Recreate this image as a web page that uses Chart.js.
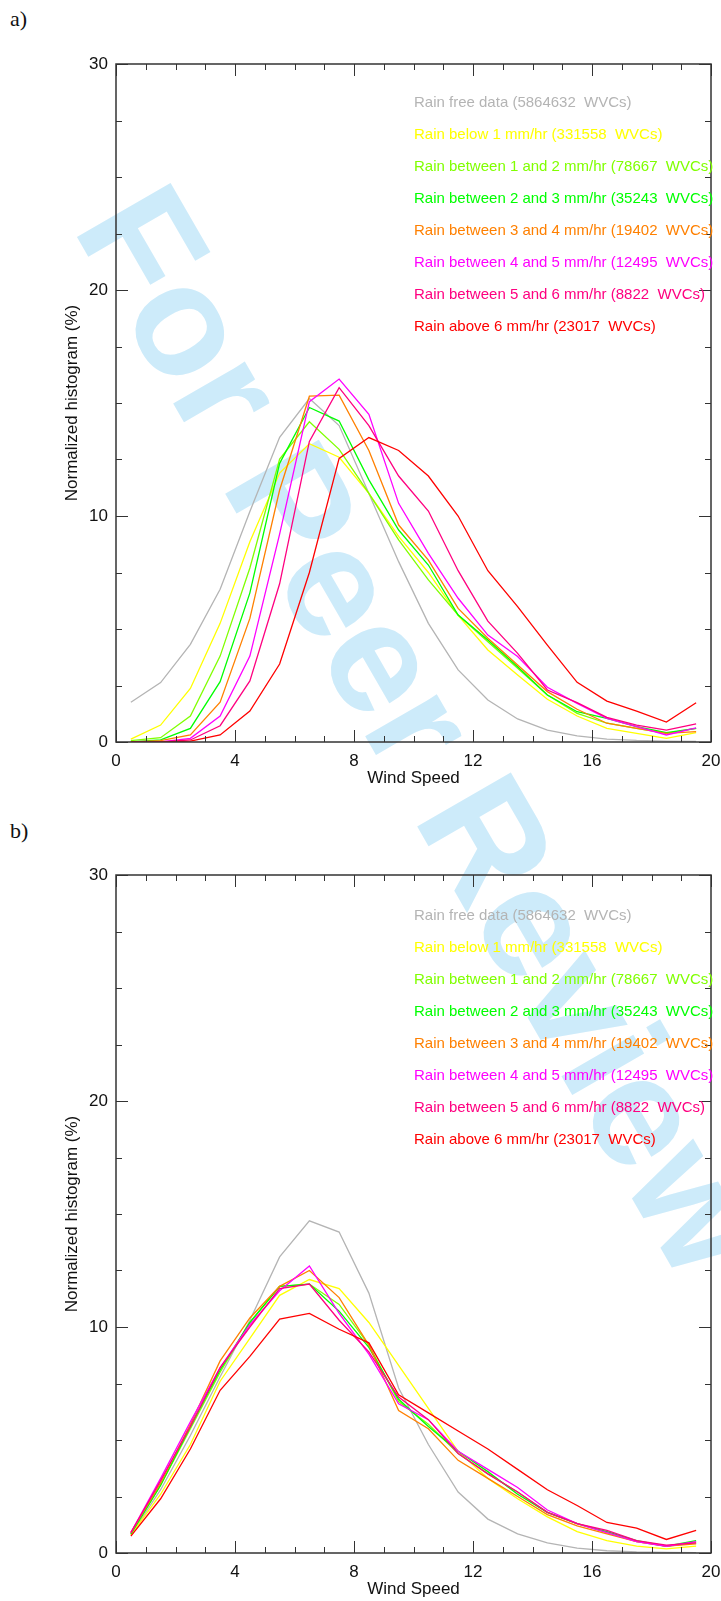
<!DOCTYPE html>
<html>
<head>
<meta charset="utf-8">
<script src="https://cdn.jsdelivr.net/npm/chart.js@4.4.1/dist/chart.umd.min.js"></script>
<style>
  body { margin: 0; background: #fff; width: 721px; height: 1601px; position: relative; overflow: hidden; }
  .panel { position: absolute; left: 0; z-index: 1; }
  .tag { position: absolute; left: 10px; font: 22px "Liberation Serif", "Times New Roman", serif; color: #111; z-index: 1; }
  .stamp {
    position: absolute; left: 424px; top: 730px; z-index: 0;
    transform: translate(-50%, -50%) rotate(60deg);
    font: bold 157px "Liberation Sans", Arial, sans-serif;
    color: rgb(205, 235, 250); white-space: nowrap;
  }
</style>
</head>
<body>
<div class="stamp">For Peer Review</div>
<div class="tag" style="top:6px">a)</div>
<div class="tag" style="top:818px">b)</div>
<canvas id="chartA" class="panel" style="top:0" width="721" height="800"></canvas>
<canvas id="chartB" class="panel" style="top:800px" width="721" height="801"></canvas>
<script>
// bin centres (m/s)
const windSpeed = [0.5, 1.5, 2.5, 3.5, 4.5, 5.5, 6.5, 7.5, 8.5, 9.5,
                   10.5, 11.5, 12.5, 13.5, 14.5, 15.5, 16.5, 17.5, 18.5, 19.5];

const classLabels = [
  "Rain free data (5864632  WVCs)",
  "Rain below 1 mm/hr (331558  WVCs)",
  "Rain between 1 and 2 mm/hr (78667  WVCs)",
  "Rain between 2 and 3 mm/hr (35243  WVCs)",
  "Rain between 3 and 4 mm/hr (19402  WVCs)",
  "Rain between 4 and 5 mm/hr (12495  WVCs)",
  "Rain between 5 and 6 mm/hr (8822  WVCs)",
  "Rain above 6 mm/hr (23017  WVCs)"
];
const classColors = ["#b4b4b4", "#ffff00", "#80ff00", "#00ff00", "#ff8000", "#ff00ff", "#ff0080", "#ff0000"];

// panel a
const aRainFree = [1.76, 2.63, 4.32, 6.76, 10.2, 13.48, 15.2, 14.0, 11.0, 7.98, 5.25, 3.19, 1.86, 1.02, 0.53, 0.27, 0.13, 0.07, 0.04, 0.03];
const aBelow1   = [0.13, 0.75, 2.37, 5.25, 8.86, 11.9, 13.2, 12.6, 11.0, 9.1, 7.5, 5.6, 4.07, 2.96, 1.89, 1.15, 0.6, 0.38, 0.16, 0.41];
const a1to2     = [0.06, 0.19, 1.15, 3.8, 7.7, 12.52, 14.17, 12.95, 11.0, 8.94, 7.17, 5.62, 4.44, 3.26, 2.08, 1.27, 0.83, 0.6, 0.38, 0.6];
const a2to3     = [0.01, 0.09, 0.6, 2.67, 6.6, 12.33, 14.8, 14.2, 11.6, 9.38, 7.83, 5.62, 4.51, 3.33, 2.08, 1.34, 1.05, 0.68, 0.41, 0.6];
const a3to4     = [0.0, 0.06, 0.31, 1.76, 5.47, 11.15, 15.3, 15.35, 12.9, 9.6, 8.05, 5.91, 4.59, 3.41, 2.23, 1.45, 0.83, 0.6, 0.38, 0.46];
const a4to5     = [0.0, 0.0, 0.16, 1.15, 3.8, 9.2, 15.06, 16.06, 14.5, 10.56, 8.35, 6.36, 4.73, 3.78, 2.42, 1.71, 1.05, 0.68, 0.31, 0.63];
const a5to6     = [0.0, 0.0, 0.09, 0.72, 2.7, 7.0, 13.3, 15.68, 14.0, 11.77, 10.22, 7.58, 5.35, 3.92, 2.3, 1.74, 1.09, 0.75, 0.53, 0.8];
const aAbove6   = [0.0, 0.0, 0.04, 0.31, 1.37, 3.45, 7.5, 12.55, 13.47, 12.9, 11.77, 10.0, 7.58, 5.99, 4.29, 2.64, 1.81, 1.37, 0.88, 1.74];

// panel b
const bRainFree = [0.8, 2.8, 5.2, 7.8, 10.3, 13.1, 14.7, 14.2, 11.5, 7.3, 4.8, 2.7, 1.5, 0.85, 0.45, 0.22, 0.1, 0.05, 0.03, 0.02];
const bBelow1   = [0.8, 2.6, 4.8, 7.6, 9.5, 11.4, 12.1, 11.7, 10.2, 8.3, 6.4, 4.5, 3.3, 2.4, 1.6, 0.95, 0.55, 0.3, 0.18, 0.3];
const b1to2     = [0.85, 3.0, 5.5, 8.0, 10.2, 11.8, 11.9, 11.0, 9.2, 6.7, 5.7, 4.4, 3.5, 2.7, 1.8, 1.3, 0.9, 0.5, 0.3, 0.45];
const b2to3     = [0.85, 3.0, 5.6, 8.1, 10.2, 11.8, 11.9, 10.7, 9.1, 6.8, 5.6, 4.5, 3.6, 2.6, 1.8, 1.3, 0.95, 0.55, 0.3, 0.55];
const b3to4     = [0.9, 3.1, 5.7, 8.5, 10.4, 11.8, 12.5, 11.3, 9.2, 6.3, 5.5, 4.1, 3.3, 2.5, 1.7, 1.2, 0.85, 0.5, 0.3, 0.4];
const b4to5     = [0.9, 3.3, 5.8, 8.2, 10.1, 11.6, 12.7, 10.6, 8.8, 6.6, 5.9, 4.5, 3.7, 2.9, 1.9, 1.3, 0.9, 0.5, 0.3, 0.5];
const b5to6     = [0.9, 3.2, 5.6, 8.2, 10.0, 11.7, 11.9, 10.3, 8.9, 6.9, 5.9, 4.4, 3.5, 2.7, 1.8, 1.3, 1.0, 0.55, 0.35, 0.45];
const bAbove6   = [0.75, 2.4, 4.6, 7.2, 8.7, 10.35, 10.6, 9.9, 9.3, 7.0, 6.2, 5.4, 4.6, 3.7, 2.8, 2.1, 1.35, 1.1, 0.6, 1.0];

const xTicks = [0, 4, 8, 12, 16, 20];
const yTicks = [0, 10, 20, 30];

const FONT = "'Liberation Sans', Arial, Helvetica, sans-serif";

// box around the plot with inward ticks on all four sides
const frameTicks = {
  id: "frameTicks",
  afterDatasetsDraw(chart) {
    const { ctx, chartArea: a, scales: { x, y } } = chart;
    ctx.save();
    ctx.strokeStyle = "#333";
    ctx.lineWidth = 1;
    ctx.beginPath();
    for (let v = 0; v <= 20; v++) {
      const px = Math.round(x.getPixelForValue(v)) + 0.5;
      const len = xTicks.includes(v) ? 12 : 6;
      ctx.moveTo(px, a.bottom); ctx.lineTo(px, a.bottom - len);
      ctx.moveTo(px, a.top); ctx.lineTo(px, a.top + len);
    }
    for (let v = 0; v <= 30; v += 2.5) {
      const py = Math.round(y.getPixelForValue(v)) + 0.5;
      const len = yTicks.includes(v) ? 12 : 6;
      ctx.moveTo(a.left, py); ctx.lineTo(a.left + len, py);
      ctx.moveTo(a.right, py); ctx.lineTo(a.right - len, py);
    }
    ctx.stroke();
    ctx.lineWidth = 1.5;
    ctx.strokeRect(a.left, a.top, a.right - a.left, a.bottom - a.top);
    ctx.restore();
  }
};

// coloured class labels stacked in the upper right
const classLegend = {
  id: "classLegend",
  afterDraw(chart, args, opts) {
    const { ctx, chartArea: a } = chart;
    ctx.save();
    ctx.font = "15px " + FONT;
    ctx.textAlign = "left";
    ctx.textBaseline = "middle";
    chart.data.datasets.forEach((ds, i) => {
      ctx.fillStyle = ds.borderColor;
      ctx.fillText(ds.label, a.left + 298, a.top + opts.top + i * 32);
    });
    ctx.restore();
  }
};

function makeHistChart(canvasId, series, padTop, padBottom, legendTop) {
  const datasets = series.map((vals, i) => ({
    label: classLabels[i],
    data: windSpeed.map((w, k) => ({ x: w, y: vals[k] })),
    borderColor: classColors[i],
    borderWidth: 1.3,
    pointRadius: 0,
    tension: 0,
    order: series.length - i
  }));

  new Chart(document.getElementById(canvasId), {
    type: "line",
    data: { datasets: datasets },
    options: {
      responsive: false,
      animation: false,
      devicePixelRatio: 1,
      layout: { padding: { left: 58, right: 10, top: padTop, bottom: padBottom } },
      plugins: {
        legend: { display: false },
        tooltip: { enabled: false },
        classLegend: { top: legendTop }
      },
      scales: {
        x: {
          type: "linear",
          min: 0, max: 20,
          afterBuildTicks: s => { s.ticks = xTicks.map(v => ({ value: v })); },
          afterFit: s => { s.height = 47; s.paddingLeft = 0; s.paddingRight = 0; },
          grid: { display: false, drawTicks: false },
          border: { display: false },
          ticks: { color: "#111", font: { family: FONT, size: 17 }, padding: 9, maxRotation: 0 },
          title: { display: true, text: "Wind Speed", color: "#111", font: { family: FONT, size: 17 }, padding: { top: 0, bottom: 0 } }
        },
        y: {
          min: 0, max: 30,
          afterBuildTicks: s => { s.ticks = yTicks.map(v => ({ value: v })); },
          afterFit: s => { s.width = 58; s.paddingTop = 0; s.paddingBottom = 0; },
          grid: { display: false, drawTicks: false },
          border: { display: false },
          ticks: { color: "#111", font: { family: FONT, size: 17 }, padding: 8 },
          title: { display: true, text: "Normalized histogram (%)", color: "#111", font: { family: FONT, size: 17 }, padding: { top: 4, bottom: 0 } }
        }
      }
    },
    plugins: [frameTicks, classLegend]
  });
}

makeHistChart("chartA", [aRainFree, aBelow1, a1to2, a2to3, a3to4, a4to5, a5to6, aAbove6], 64, 11, 39);
makeHistChart("chartB", [bRainFree, bBelow1, b1to2, b2to3, b3to4, b4to5, b5to6, bAbove6], 75, 1, 41);
</script>
</body>
</html>
